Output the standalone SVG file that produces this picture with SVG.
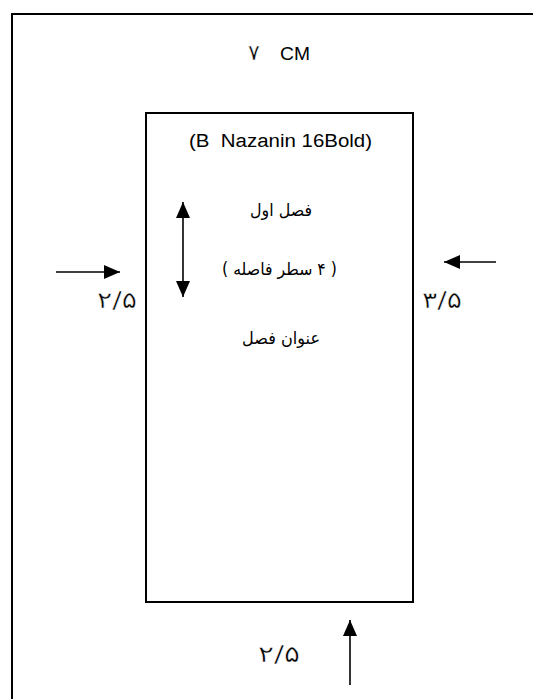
<svg xmlns="http://www.w3.org/2000/svg" width="533" height="699" viewBox="0 0 533 699">
<style>
.frame{fill:none;stroke:#000;stroke-width:2}
.line{stroke:#000;stroke-width:1.6;fill:none}
.lat{font-family:"Liberation Sans",Arial,sans-serif;fill:#000}
.fa{font-family:"DejaVu Sans","Noto Sans",sans-serif;fill:#000}
.num{font-size:23px;stroke:#fff;stroke-width:0.45px}
.body{font-size:17px}
</style>
<defs>
<marker id="ahb" viewBox="0 0 10 10" refX="10" refY="5" markerWidth="16" markerHeight="14" markerUnits="userSpaceOnUse" orient="auto-start-reverse" preserveAspectRatio="none">
<path d="M0,0 L10,5 L0,10 z" fill="#000"/>
</marker>
</defs>
<rect width="533" height="699" fill="#fff"/>
<g id="page">
<path class="frame" d="M12,699 V14 H533"/>
</g>
<g id="width-label">
<text class="fa" x="254" y="60" font-size="22" text-anchor="middle" stroke="#fff" stroke-width="0.45">۷</text>
<text class="lat" x="280" y="60" font-size="19" textLength="30" lengthAdjust="spacingAndGlyphs">CM</text>
</g>
<g id="text-block">
<rect class="frame" x="146" y="113" width="267" height="489"/>
<text class="lat" x="189" y="147" font-size="18" textLength="183" lengthAdjust="spacingAndGlyphs" xml:space="preserve">(B  Nazanin 16Bold)</text>
<text class="fa body" x="250" y="216" textLength="62" lengthAdjust="spacingAndGlyphs" direction="rtl" text-anchor="end">فصل اول</text>
<text class="fa body" x="222" y="275" textLength="115" lengthAdjust="spacingAndGlyphs" direction="rtl" text-anchor="end">( ۴ سطر فاصله )</text>
<text class="fa body" x="242" y="344" textLength="78" lengthAdjust="spacingAndGlyphs" direction="rtl" text-anchor="end">عنوان فصل</text>
</g>
<g id="margin-labels">
<text class="fa num" x="97" y="308" textLength="40" lengthAdjust="spacingAndGlyphs">۲/۵</text>
<text class="fa num" x="422" y="308" textLength="40" lengthAdjust="spacingAndGlyphs">۳/۵</text>
<text class="fa num" x="258" y="662" textLength="42" lengthAdjust="spacingAndGlyphs">۲/۵</text>
</g>
<g id="connectors">
<line class="line" x1="183" y1="202" x2="183" y2="297" marker-start="url(#ahb)" marker-end="url(#ahb)"/>
<line class="line" x1="56" y1="272" x2="120" y2="272" marker-end="url(#ahb)"/>
<line class="line" x1="496" y1="262" x2="444" y2="262" marker-end="url(#ahb)"/>
<line class="line" x1="350" y1="685" x2="350" y2="620" marker-end="url(#ahb)"/>
</g>
</svg>
